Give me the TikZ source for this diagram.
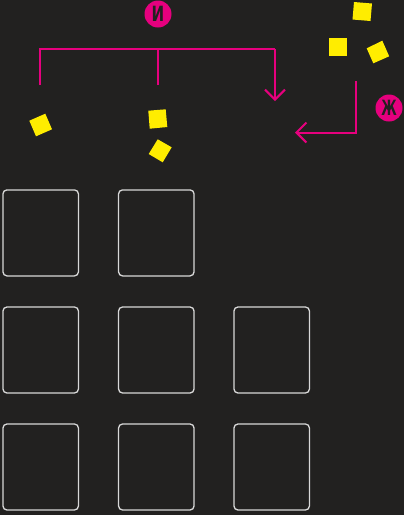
\documentclass[tikz,border=0pt]{standalone}
\usepackage{graphicx}
\usepackage{fontspec}
\newfontfamily\badgefont{DejaVu Sans}
\usetikzlibrary{arrows.meta}
\definecolor{bgc}{HTML}{222120}
\definecolor{mag}{HTML}{E6007E}
\definecolor{yel}{HTML}{FFED00}
\definecolor{frame}{HTML}{D8D8D8}
\tikzset{
  cell/.style={draw=frame, line width=1.3pt, rounded corners=4pt, minimum width=75.5pt, minimum height=86pt, inner sep=0pt},
  badge/.style={circle, fill=mag, minimum size=27pt, inner sep=0pt, text=bgc, font=\badgefont\bfseries\fontsize{21}{21}\selectfont},
  link/.style={draw=mag, line width=2pt},
  arr/.style={link, -{Straight Barb[length=10pt, width=20pt, line width=2pt]}},
  tile/.style={fill=yel},
}
\begin{document}
\begin{tikzpicture}[x=1pt, y=-1pt]
\fill[bgc] (0,0) rectangle (404,515);
\useasboundingbox (0,0) rectangle (404,515);

% badges
\node[badge] (i) at (158,14) {\scalebox{0.72}[1]{И}};
\node[badge] (zh) at (389,108) {\scalebox{0.6}[1]{Ж}};

% bracket connector
\coordinate (b1) at (40,85);
\coordinate (b2) at (158,85);
\coordinate (b3) at (275,101);
\coordinate (h1) at (40,49);
\coordinate (h2) at (158,49);
\coordinate (h3) at (275,49);
\draw[link] (b1) -- (h1) -- (h3);
\draw[link] (b2) -- (h2);
\draw[arr] (h3) -- (b3);

% turn arrow
\coordinate (t1) at (356,81);
\coordinate (t2) at (356,132.5);
\coordinate (t3) at (295,132.5);
\draw[arr] (t1) -- (t2) -- (t3);

% yellow tiles
\fill[tile] (354,2) -- (372,3.5) -- (370.5,21) -- (352.5,19.5) -- cycle;
\fill[tile] (329,38) rectangle (347,56);
\fill[tile] (366.7,48.3) -- (382.3,40.7) -- (389.2,56.3) -- (373.3,63.3) -- cycle;
\fill[tile] (29.3,120.7) -- (45.3,113.7) -- (52,129.3) -- (36,136.3) -- cycle;
\fill[tile] (148.3,110.7) -- (165.7,109.3) -- (167.3,127) -- (149.7,128.7) -- cycle;
\fill[tile] (148.7,154) -- (157.7,139.3) -- (171.7,147.3) -- (162.7,162.3) -- cycle;

% cells
\node[cell] (c11) at (40.7,232.9) {};
\node[cell] (c12) at (156.3,232.9) {};
\node[cell] (c21) at (40.7,350) {};
\node[cell] (c22) at (156.3,350) {};
\node[cell] (c23) at (271.7,350) {};
\node[cell] (c31) at (40.7,467) {};
\node[cell] (c32) at (156.3,467) {};
\node[cell] (c33) at (271.7,467) {};
\end{tikzpicture}
\end{document}
